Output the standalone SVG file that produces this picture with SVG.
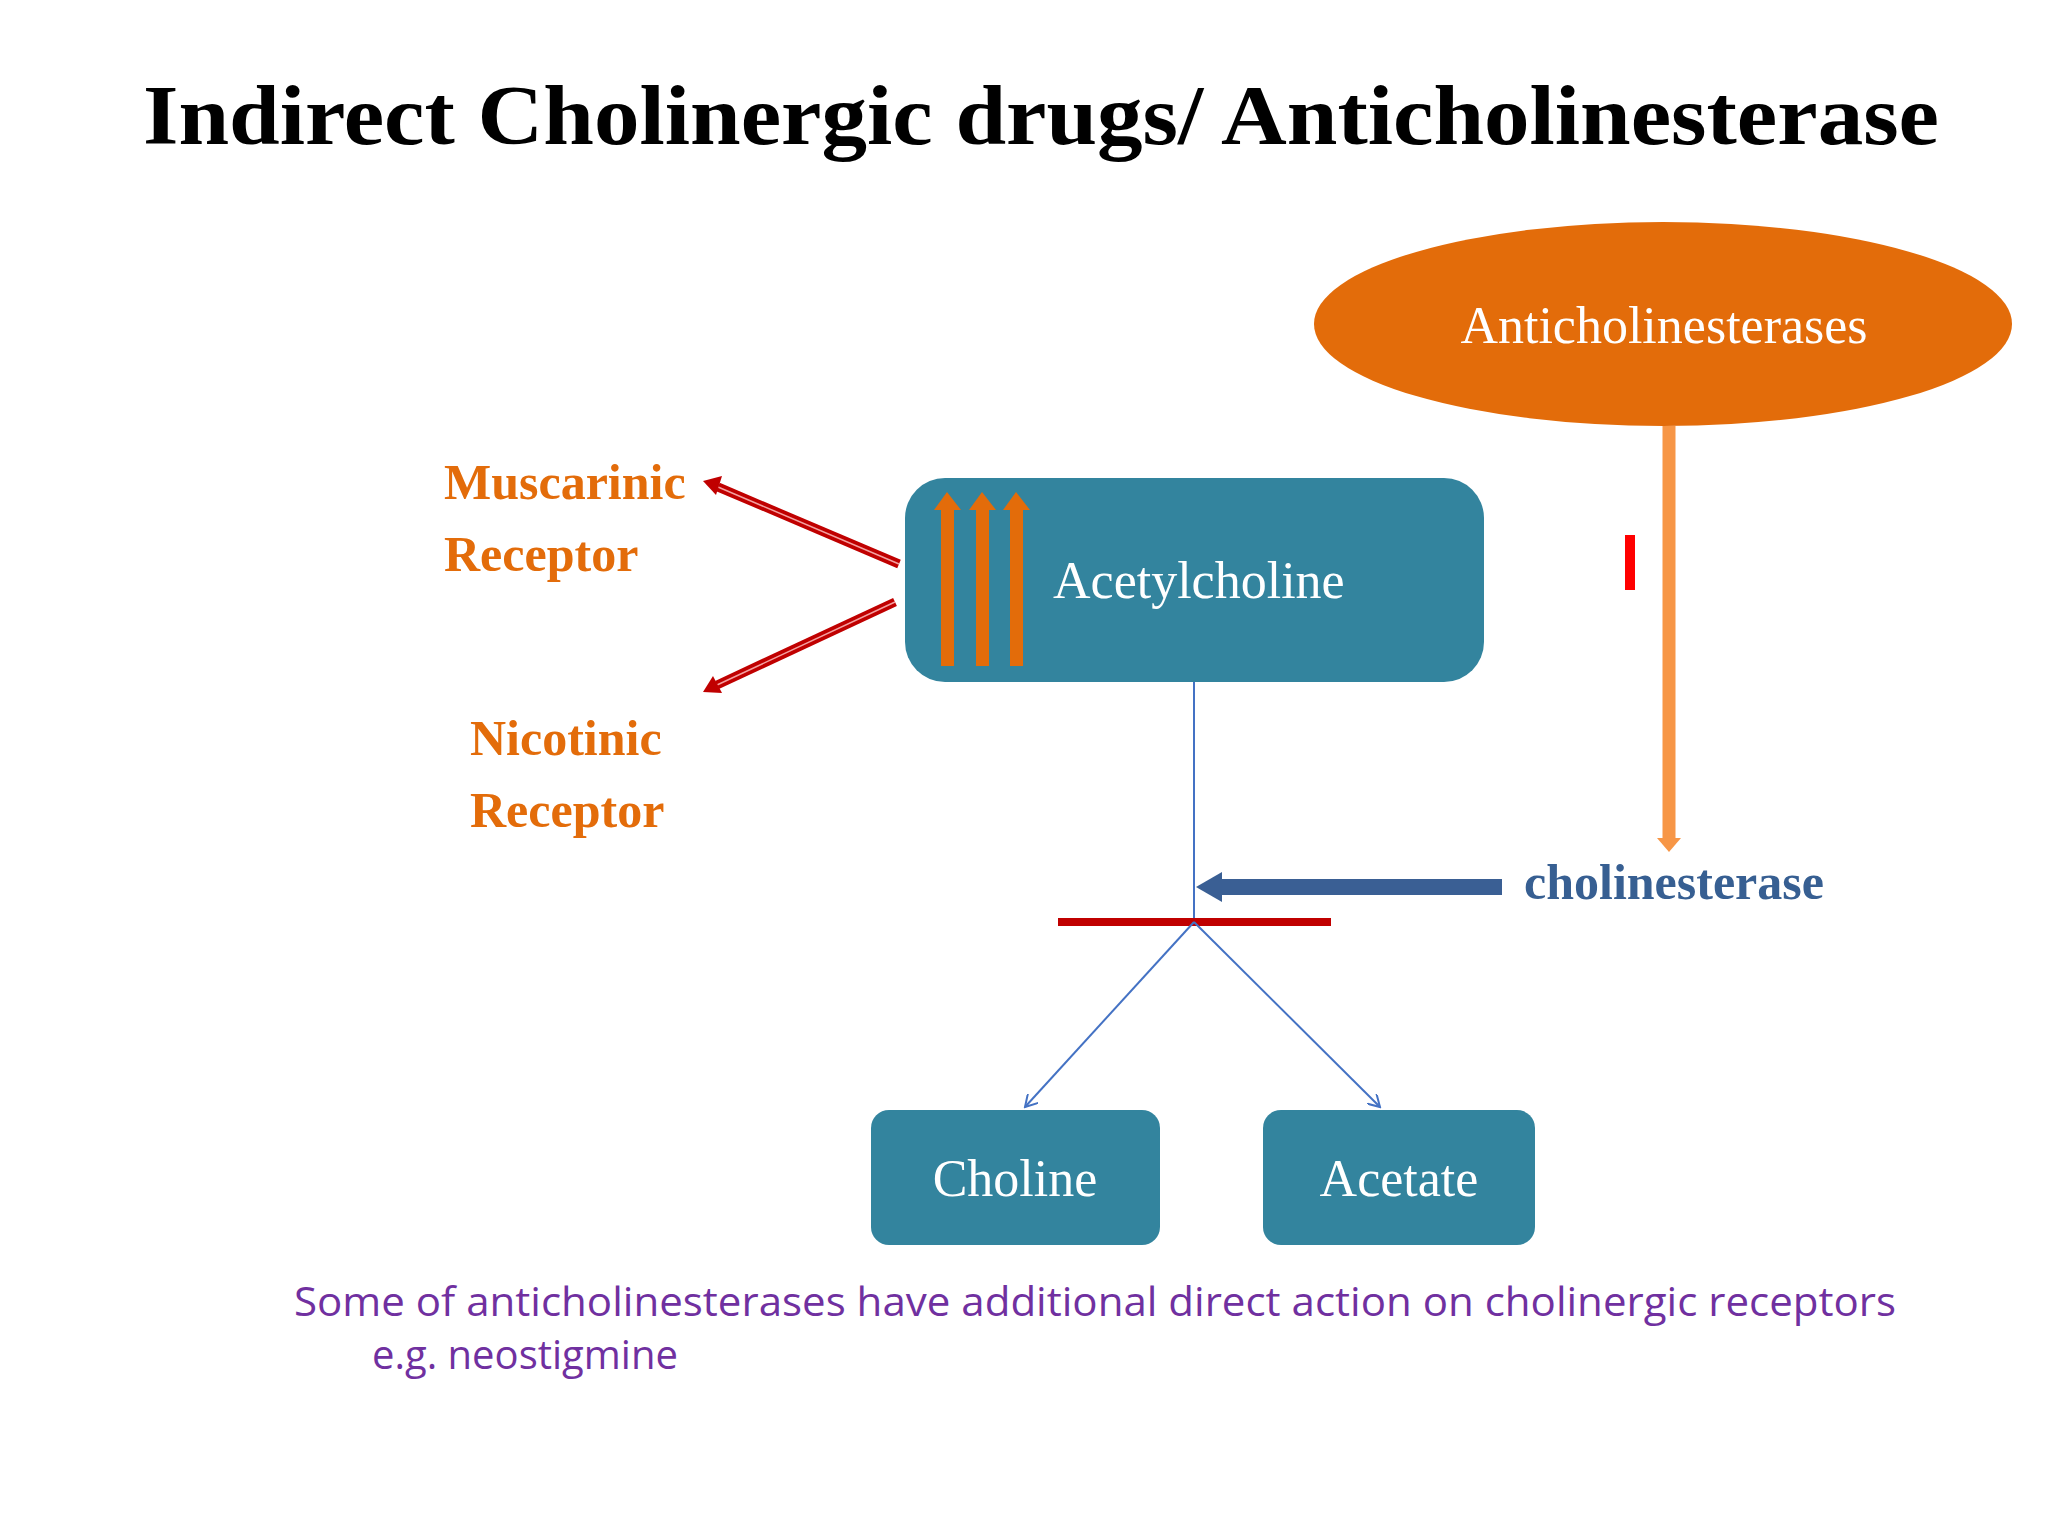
<svg xmlns="http://www.w3.org/2000/svg" width="2048" height="1536" viewBox="0 0 2048 1536">
<style>
.serif{font-family:"Liberation Serif","Times New Roman",serif}
.box{fill:#33849E}
.wt{fill:#fff;font-size:52px}
.or{fill:#E36C0A;font-size:50px;font-weight:bold}
.thin{stroke:#4472C4;stroke-width:2;fill:none}
</style>
<defs>
<marker id="vh" markerWidth="14" markerHeight="14" refX="12" refY="7" orient="auto" markerUnits="userSpaceOnUse">
<path d="M0,0 L12,7 L0,14" fill="none" stroke="#4472C4" stroke-width="2"/>
</marker>
</defs>
<rect width="2048" height="1536" fill="#fff"/>
<text x="1041" y="144" text-anchor="middle" class="serif" font-size="84" font-weight="bold" textLength="1796" lengthAdjust="spacingAndGlyphs">Indirect Cholinergic drugs/ Anticholinesterase</text>

<g id="connectors">
<line x1="1194" y1="682" x2="1194" y2="922" stroke="#4472C4" stroke-width="2"/>
<line x1="1058" y1="922" x2="1331" y2="922" stroke="#C00000" stroke-width="8"/>
<line x1="1194" y1="922" x2="1025" y2="1107" class="thin" marker-end="url(#vh)"/>
<line x1="1194" y1="922" x2="1380" y2="1107" class="thin" marker-end="url(#vh)"/>
<line x1="1502" y1="887" x2="1220" y2="887" stroke="#3A5F94" stroke-width="16"/>
<polygon points="1196,887 1222,872 1222,902" fill="#3A5F94"/>
<line x1="1669" y1="426" x2="1669" y2="840" stroke="#F79646" stroke-width="13"/>
<polygon points="1657,838 1681,838 1669,852" fill="#F79646"/>
<line x1="1630" y1="535" x2="1630" y2="590" stroke="#FF0000" stroke-width="10"/>
<g stroke-linecap="butt">
<line x1="899" y1="564" x2="718" y2="487" stroke="#C00000" stroke-width="9"/>
<line x1="899" y1="564" x2="718" y2="487" stroke="#F4A0A0" stroke-width="1.5"/>
<polygon points="703,481 722,476 716,495" fill="#C00000"/>
<line x1="895" y1="602" x2="717" y2="685" stroke="#C00000" stroke-width="9"/>
<line x1="895" y1="602" x2="717" y2="685" stroke="#F4A0A0" stroke-width="1.5"/>
<polygon points="703,692 713,676 722,693" fill="#C00000"/>
</g>
</g>

<g id="anticholinesterases">
<ellipse cx="1663" cy="324" rx="349" ry="102" fill="#E36C0A"/>
<text x="1664" y="343" text-anchor="middle" class="serif wt">Anticholinesterases</text>
</g>

<g id="acetylcholine">
<rect x="905" y="478" width="579" height="204" rx="40" class="box"/>
<g fill="#E36C0A">
<rect x="941" y="508" width="13" height="158"/><polygon points="934,510 947,492 961,510"/>
<rect x="976" y="508" width="13" height="158"/><polygon points="969,510 982,492 996,510"/>
<rect x="1010" y="508" width="13" height="158"/><polygon points="1003,510 1016,492 1030,510"/>
</g>
<text x="1053" y="598" class="serif wt">Acetylcholine</text>
</g>

<g id="muscarinic">
<text class="serif or" x="444" y="499">Muscarinic</text>
<text class="serif or" x="444" y="571">Receptor</text>
</g>
<g id="nicotinic">
<text class="serif or" x="470" y="755">Nicotinic</text>
<text class="serif or" x="470" y="827">Receptor</text>
</g>
<g id="cholinesterase">
<text class="serif" x="1524" y="899" font-size="50" font-weight="bold" fill="#375F92">cholinesterase</text>
</g>

<g id="choline">
<rect x="871" y="1110" width="289" height="135" rx="18" class="box"/>
<text x="1015" y="1196" text-anchor="middle" class="serif wt">Choline</text>
</g>
<g id="acetate">
<rect x="1263" y="1110" width="272" height="135" rx="18" class="box"/>
<text x="1399" y="1196" text-anchor="middle" class="serif wt">Acetate</text>
</g>

<g id="note" font-family="'Open Sans','Liberation Sans',sans-serif" font-size="40" fill="#7030A0">
<text x="294" y="1316" textLength="1602" lengthAdjust="spacingAndGlyphs">Some of anticholinesterases have additional direct action on cholinergic receptors</text>
<text x="372" y="1369">e.g. neostigmine</text>
</g>
</svg>
